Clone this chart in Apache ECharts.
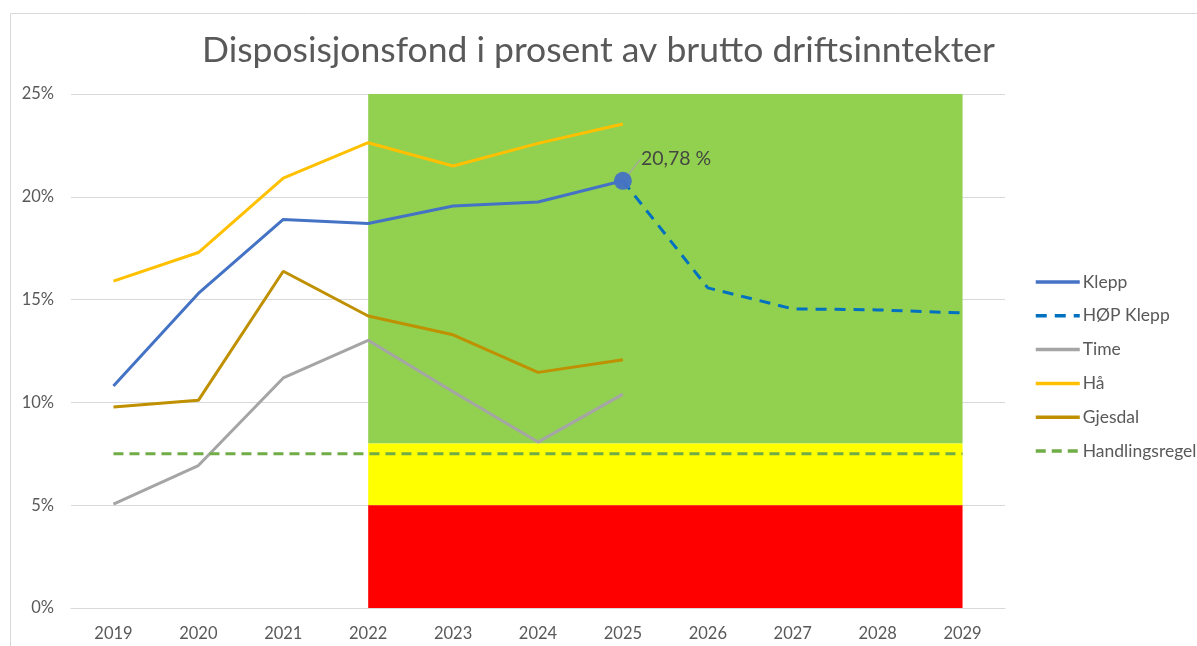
<!DOCTYPE html>
<html>
<head>
<meta charset="utf-8">
<title>Disposisjonsfond</title>
<script src="https://cdn.jsdelivr.net/npm/echarts@6/dist/echarts.min.js"></script>
<style>
  html, body { margin: 0; padding: 0; background: #fff; }
  #chart { width: 1197px; height: 646px; }
</style>
</head>
<body>
<div id="chart"></div>
<script>
// data
var years = ['2019', '2020', '2021', '2022', '2023', '2024', '2025', '2026', '2027', '2028', '2029'];
var klepp = [10.8, 15.3, 18.9, 18.7, 19.55, 19.75, 20.78, null, null, null, null];
var hopKlepp = [null, null, null, null, null, null, 20.78, 15.57, 14.55, 14.5, 14.35];
var time = [5.05, 6.93, 11.19, 13.02, 10.52, 8.07, 10.4, null, null, null, null];
var ha = [15.9, 17.29, 20.91, 22.63, 21.5, 22.6, 23.54, null, null, null, null];
var gjesdal = [9.78, 10.1, 16.38, 14.2, 13.29, 11.46, 12.07, null, null, null, null];
var handlingsregel = [7.5, 7.5, 7.5, 7.5, 7.5, 7.5, 7.5, 7.5, 7.5, 7.5, 7.5];
var yTicks = [0, 5, 10, 15, 20, 25];
// bands: [from, to, colour], drawn between 2022 and 2029
var bands = [[8, 25, '#92D050'], [5, 8, '#FFFF00'], [0, 5, '#FF0000']];
var labelYear = '2025';

var txt = '#595959';
var font = 'Lato';

var myChart = echarts.init(document.getElementById('chart'));

function lineSeries(name, data, color, dashed) {
    return {
        name: name,
        type: 'line',
        data: data,
        symbol: 'none',
        z: 3,
        color: color,
        lineStyle: { color: color, width: 3, type: dashed || 'solid', cap: 'butt' }
    };
}

var labelIdx = years.indexOf(labelYear);

option = {
    animation: false,
    textStyle: { fontFamily: font },
    title: {
        text: 'Disposisjonsfond i prosent av brutto driftsinntekter',
        left: 'center',
        top: 28,
        textStyle: { color: txt, fontSize: 35.5, fontWeight: 'normal', fontFamily: font }
    },
    graphic: [{
        type: 'rect',
        shape: { x: 10.5, y: 13.5, width: 1400, height: 900 },
        style: { fill: 'none', stroke: '#d9d9d9', lineWidth: 1 },
        silent: true
    }],
    legend: {
        orient: 'vertical',
        left: 1029,
        top: 268,
        itemWidth: 44,
        itemHeight: 16,
        itemGap: 15.8,
        itemStyle: { opacity: 0 },
        lineStyle: { width: 3.5 },
        textStyle: { color: txt, fontSize: 17.5, padding: [0, 0, 0, -2] },
        data: ['Klepp', 'HØP Klepp', 'Time', 'Hå', 'Gjesdal', 'Handlingsregel']
    },
    grid: { left: 71, right: 192, top: 94, bottom: 38 },
    xAxis: {
        type: 'category',
        data: years,
        boundaryGap: true,
        axisLine: { lineStyle: { color: '#d9d9d9', width: 1 } },
        axisTick: { show: false },
        axisLabel: { color: txt, fontSize: 16.5, margin: 17 }
    },
    yAxis: {
        type: 'value',
        min: yTicks[0],
        max: yTicks[yTicks.length - 1],
        interval: 5,
        axisLine: { show: false },
        axisTick: { show: false },
        splitLine: { lineStyle: { color: '#d9d9d9', width: 1 } },
        axisLabel: { color: txt, fontSize: 16.5, margin: 17, formatter: '{value}%' }
    },
    series: [
        {
            name: 'bands',
            type: 'line',
            data: [],
            z: 1,
            silent: true,
            markArea: {
                silent: true,
                itemStyle: { opacity: 1 },
                data: bands.map(function (b) {
                    return [
                        { xAxis: '2022', yAxis: b[0], itemStyle: { color: b[2] } },
                        { xAxis: '2029', yAxis: b[1] }
                    ];
                })
            }
        },
        lineSeries('Klepp', klepp, '#4472C4'),
        lineSeries('HØP Klepp', hopKlepp, '#0070C0', [11, 8]),
        lineSeries('Time', time, '#A5A5A5'),
        lineSeries('Hå', ha, '#FFC000'),
        lineSeries('Gjesdal', gjesdal, '#BF9000'),
        lineSeries('Handlingsregel', handlingsregel, '#70AD47', [10, 6]),
        {
            name: 'Klepp punkt',
            type: 'scatter',
            z: 5,
            symbol: 'circle',
            symbolSize: 18,
            itemStyle: { color: '#4472C4', opacity: 0.95 },
            data: [[labelYear, klepp[labelIdx]]],
            label: {
                show: true,
                position: 'right',
                distance: 9,
                color: '#404040',
                fontSize: 19.5,
                fontFamily: font,
                formatter: function (p) {
                    return p.value[1].toFixed(2).replace('.', ',') + ' %';
                }
            },
            labelLayout: { dx: 0, dy: -22 },
            labelLine: { show: true, minTurnAngle: 0, lineStyle: { color: '#a6a6a6', width: 1.2 } }
        }
    ]
};

myChart.setOption(option);
</script>
</body>
</html>
